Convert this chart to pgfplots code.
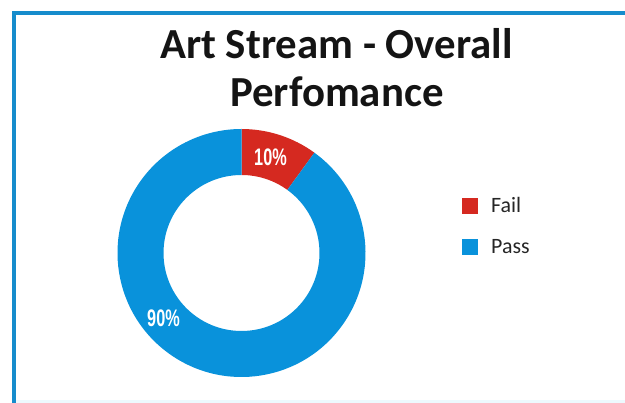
\documentclass[border=0pt]{standalone}
\usepackage{pgfplots}
\pgfplotsset{compat=1.18}
\usepackage{pgfplotstable}
\usepackage{graphicx}
\usepackage{fontspec}
\setmainfont{Carlito}
\newfontfamily\labelfont{Liberation Sans}
\usetikzlibrary{calc}
\definecolor{passblue}{RGB}{9,146,219}
\definecolor{failred}{RGB}{213,41,32}
\definecolor{frameblue}{RGB}{22,140,204}
\definecolor{legtext}{RGB}{38,38,38}
\definecolor{titletext}{RGB}{20,20,20}

\pgfplotstableread{
label value
Fail 10
Pass 90
}\results

\begin{document}
\begin{tikzpicture}
\pgfplotstablegetelem{0}{value}\of\results \pgfmathsetmacro\vfail{\pgfplotsretval}
\pgfplotstablegetelem{1}{value}\of\results \pgfmathsetmacro\vpass{\pgfplotsretval}
\pgfmathsetmacro\afail{360*\vfail/(\vfail+\vpass)}
\pgfmathsetmacro\aend{90-\afail}
\path[use as bounding box] (0,0) rectangle (625bp,403bp);
\begin{axis}[
  at={(0,0)}, anchor=south west, scale only axis,
  width=625bp, height=403bp,
  xmin=0, xmax=625, ymin=0, ymax=403,
  hide axis, clip=false,
  legend style={at={(axis cs:462,206)}, anchor=north west, draw=none, fill=none,
    font=\fontsize{22}{26}\selectfont, text=legtext, inner sep=0pt,
    row sep=25bp, column sep=13bp, nodes={inner sep=0pt}},
  legend cell align=left,
  legend image code/.code={\fill[#1, draw=none] (0bp,-8bp) rectangle (16bp,8bp);},
]
\fill[white] (axis cs:0,0) rectangle (axis cs:625,403);
\fill[cyan!7] (axis cs:16,0) rectangle (axis cs:625,3);
\draw[frameblue, line width=4bp] (axis cs:14,0) -- (axis cs:14,390) -- (axis cs:627,390);
\coordinate (c) at (axis cs:241.5,150);
\fill[failred] ($(c)+(90:124bp)$) arc[start angle=90, end angle=\aend, radius=124bp]
  -- ($(c)+(\aend:78bp)$) arc[start angle=\aend, end angle=90, radius=78bp] -- cycle;
\fill[passblue] ($(c)+(\aend:124bp)$) arc[start angle=\aend, end angle=-270, radius=124bp]
  -- ($(c)+(-270:78bp)$) arc[start angle=-270, end angle=\aend, radius=78bp] -- cycle;
\node[white, font=\labelfont\bfseries\fontsize{24}{24}\selectfont] at (axis cs:270.5,245.5) {\scalebox{0.68}[1]{10\%}};
\node[white, font=\labelfont\bfseries\fontsize{24}{24}\selectfont] at (axis cs:163.5,85) {\scalebox{0.68}[1]{90\%}};
\node[anchor=base, text=titletext, font=\bfseries\fontsize{43}{43}\selectfont] at (axis cs:336.5,344) {Art Stream - Overall};
\node[anchor=base, text=titletext, font=\bfseries\fontsize{43}{43}\selectfont] at (axis cs:337,296) {Perfomance};
\addlegendimage{fill=failred}
\addlegendentry{Fail}
\addlegendimage{fill=passblue}
\addlegendentry{Pass}
\end{axis}
\end{tikzpicture}
\end{document}
